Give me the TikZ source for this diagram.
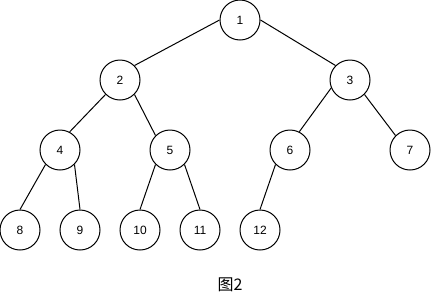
\documentclass[tikz,border=0pt]{standalone}
\usepackage{fontspec}
\setmainfont{Liberation Sans}
\newfontfamily\cjk{Noto Sans CJK SC}
\usepackage{xcolor}
\usepackage{tikz}
\usetikzlibrary{positioning}

\begin{document}
\begin{tikzpicture}[
    x=0.75pt, y=-0.75pt,
    heapnode/.style={
      circle,
      draw=black,
      line width=0.75pt,
      fill=white,
      minimum size=30pt,
      inner sep=0pt,
      font=\fontsize{9}{10}\selectfont
    },
    heapedge/.style={draw=black, line width=0.75pt}
  ]
  \useasboundingbox (0,0) rectangle (431,301);
  % levels of the tree
  \node[heapnode] (n1) at (240,20) {1};
  \node[heapnode] (n2) at (120,80) {2};
  \node[heapnode] (n3) at (350,80) {3};
  \node[heapnode] (n4) at (60,150) {4};
  \node[heapnode] (n5) at (170,150) {5};
  \node[heapnode] (n6) at (290,150) {6};
  \node[heapnode] (n7) at (410,150) {7};
  \node[heapnode] (n8) at (20,230) {8};
  \node[heapnode] (n9) at (80,230) {9};
  \node[heapnode] (n10) at (140,230) {10};
  \node[heapnode] (n11) at (200,230) {11};
  \node[heapnode] (n12) at (260,230) {12};
  % links
  \foreach \a/\b in {n1.west/n2.north east, n1.east/n3.north west,
      n2.south west/n4.62, n2.south east/n5.north west,
      n3.203/n6.63, n3.south east/n7.north west,
      n4.south west/n8.north, n4.south east/n9.north,
      n5.south west/n10.north, n5.south east/n11.north,
      n6.south west/n12.north}
    \draw[heapedge] (\a) -- (\b);
  % caption
  \node[font=\cjk\fontsize{12}{14}\selectfont] (caption) at (230,285) {图2};
\end{tikzpicture}
\end{document}
